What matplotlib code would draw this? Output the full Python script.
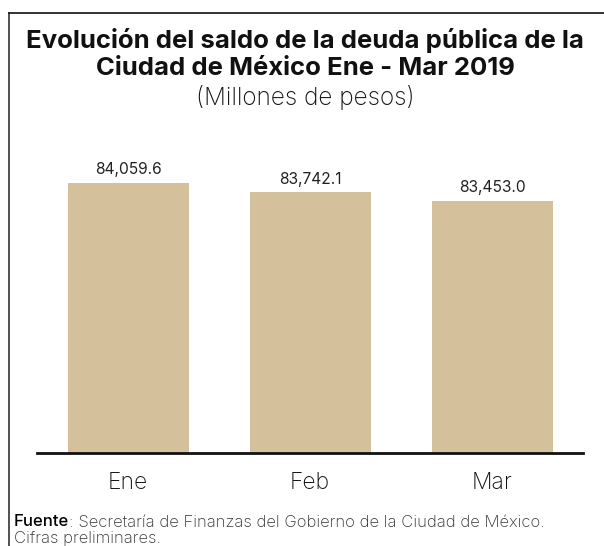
import matplotlib
matplotlib.use("Agg")
import matplotlib.pyplot as plt
from matplotlib.lines import Line2D

meses = ["Ene", "Feb", "Mar"]
saldo = [84059.6, 83742.1, 83453.0]

titulo = "Evolución del saldo de la deuda pública de la\nCiudad de México Ene - Mar 2019"
subtitulo = "(Millones de pesos)"
fuente = "Secretaría de Finanzas del Gobierno de la Ciudad de México."
nota = "Cifras preliminares."

plt.rcParams["font.family"] = ["Inter", "DejaVu Sans"]
BAR_COLOR = "#D4C19C"

fig = plt.figure(figsize=(6.04, 5.46), dpi=100)
ax = fig.add_axes([0.0613, 0.1703, 0.9040, 0.5733])

x = range(len(meses))
bars = ax.bar(x, saldo, width=0.665, color=BAR_COLOR)
for b, v in zip(bars, saldo):
    ax.annotate(f"{v:,.1f}", (b.get_x() + b.get_width() / 2, v),
                xytext=(0, 4), textcoords="offset points",
                ha="center", va="bottom", fontsize=11.2, color="#222222")

ax.set_xlim(-0.5, 2.5)
ax.set_ylim(75000, 85500)
ax.set_xticks(list(x))
ax.set_xticklabels(meses, fontsize=16.5, color="#111111", fontweight="light")
ax.tick_params(axis="x", length=0, pad=14)
ax.set_yticks([])
for s in ["top", "right", "left"]:
    ax.spines[s].set_visible(False)
ax.spines["bottom"].set_linewidth(2)
ax.spines["bottom"].set_color("#111111")

fig.text(0.505, 1 - 54 / 546, titulo, ha="center", va="center",
         fontsize=18.5, fontweight="bold", linespacing=1.22, color="#111111")
fig.text(0.505, 1 - 98 / 546, subtitulo, ha="center", va="center",
         fontsize=17.5, fontweight="light", color="#111111")

# marco
fig.add_artist(Line2D([9 / 604, 9 / 604], [0, 1 - 13 / 546], color="#333333", lw=1.2))
fig.add_artist(Line2D([9 / 604, 1], [1 - 13 / 546, 1 - 13 / 546], color="#111111", lw=1.2))

# fuente
t1 = fig.text(14 / 604, 1 - 522 / 546, "Fuente", ha="left", va="center",
              fontsize=12, fontweight="medium", color="#000000")
fig.canvas.draw()
bb = t1.get_window_extent(fig.canvas.get_renderer())
fig.text(bb.x1 / fig.bbox.width, 1 - 522 / 546, ": " + fuente, ha="left", va="center",
         fontsize=12, fontweight="light", color="#333333")
fig.text(14 / 604, 1 - 539 / 546, nota, ha="left", va="center",
         fontsize=12, fontweight="light", color="#333333")

fig.savefig("out.png", dpi=100)
